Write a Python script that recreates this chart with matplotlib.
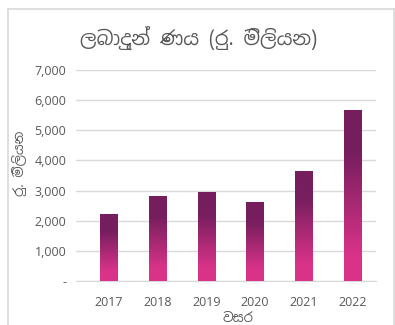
import numpy as np
import matplotlib
matplotlib.use("Agg")
import matplotlib.pyplot as plt
from matplotlib import font_manager
from matplotlib.colors import LinearSegmentedColormap
from matplotlib.lines import Line2D
from matplotlib.ft2font import FT2Font

years = ["2017", "2018", "2019", "2020", "2021", "2022"]
loans = [2220, 2820, 2950, 2620, 3650, 5680]
y_ticks = [0, 1000, 2000, 3000, 4000, 5000, 6000, 7000]
y_tick_labels = ["-", "1,000", "2,000", "3,000", "4,000", "5,000", "6,000", "7,000"]

TEXT = "#595959"
GRID = "#d9d9d9"


def sinhala_family():
    """Pick an installed family with Sinhala glyphs, preferring a plain sans."""
    found = []
    for f in font_manager.fontManager.ttflist:
        try:
            if 0x0DBD in FT2Font(f.fname).get_charmap():
                found.append(f.name)
        except Exception:
            continue
    if not found:
        return None

    def rank(name):
        n = name.lower()
        return ("sinhala" not in n, "mono" in n, "serif" in n, "ui" in n, n)

    return sorted(set(found), key=rank)[0]


si = sinhala_family()
base = ["Open Sans", "DejaVu Sans"]
si_fam = [si] + base if si else base
plt.rcParams["font.family"] = base

fig = plt.figure(figsize=(3.95, 3.25), dpi=100)
W, H = 395, 325
ax = fig.add_axes([76 / W, (H - 281) / H, 300 / W, 211 / H])

x = np.arange(len(years))
bars = ax.bar(x, loans, width=0.35, color="none", edgecolor="none", zorder=3)

cmap = LinearSegmentedColormap.from_list(
    "loan", [(0.0, "#d93389"), (0.15, "#d93389"), (0.75, "#761e5e"), (1.0, "#761e5e")]
)
grad = np.linspace(0, 1, 256).reshape(-1, 1)
for b in bars:
    x0, y0 = b.get_x(), b.get_y()
    im = ax.imshow(grad, cmap=cmap, origin="lower", aspect="auto",
                   extent=[x0, x0 + b.get_width(), y0, y0 + b.get_height()],
                   zorder=3)
    im.set_clip_path(b)

ax.set_xlim(-0.67, 5.48)
ax.set_ylim(0, 7000)
ax.set_xticks(x)
ax.set_xticklabels(years)
ax.set_yticks(y_ticks)
ax.set_yticklabels(y_tick_labels)
ax.tick_params(axis="both", length=0, labelsize=9, labelcolor=TEXT)
ax.tick_params(axis="x", pad=11)
ax.tick_params(axis="y", pad=7)
ax.grid(axis="y", color=GRID, linewidth=1, zorder=0)
for s in ["top", "right", "left"]:
    ax.spines[s].set_visible(False)
ax.spines["bottom"].set_color(GRID)
ax.set_axisbelow(True)

fig.text(199 / W, 1 - 38 / H, "ලබාදුන් ණය (රු. මිලියන)", ha="center", va="center",
         fontsize=14, color=TEXT, family=si_fam)
fig.text(20 / W, 1 - 163 / H, "රු. මිලියන", rotation=90, ha="center", va="center",
         fontsize=9.5, color=TEXT, family=si_fam)
fig.text(238 / W, 1 - 318 / H, "වසර", ha="center", va="center",
         fontsize=9.5, color=TEXT, family=si_fam)

# outer chart frame
for xs, ys in [([7.5, 7.5], [H, 8.5]), ([7.5, 394], [8.5, 8.5]), ([394, 394], [8.5, H])]:
    fig.add_artist(Line2D([v / W for v in xs], [1 - v / H for v in ys],
                          transform=fig.transFigure, color=GRID, linewidth=1.2))

fig.savefig("out.png", dpi=100, facecolor="white")
